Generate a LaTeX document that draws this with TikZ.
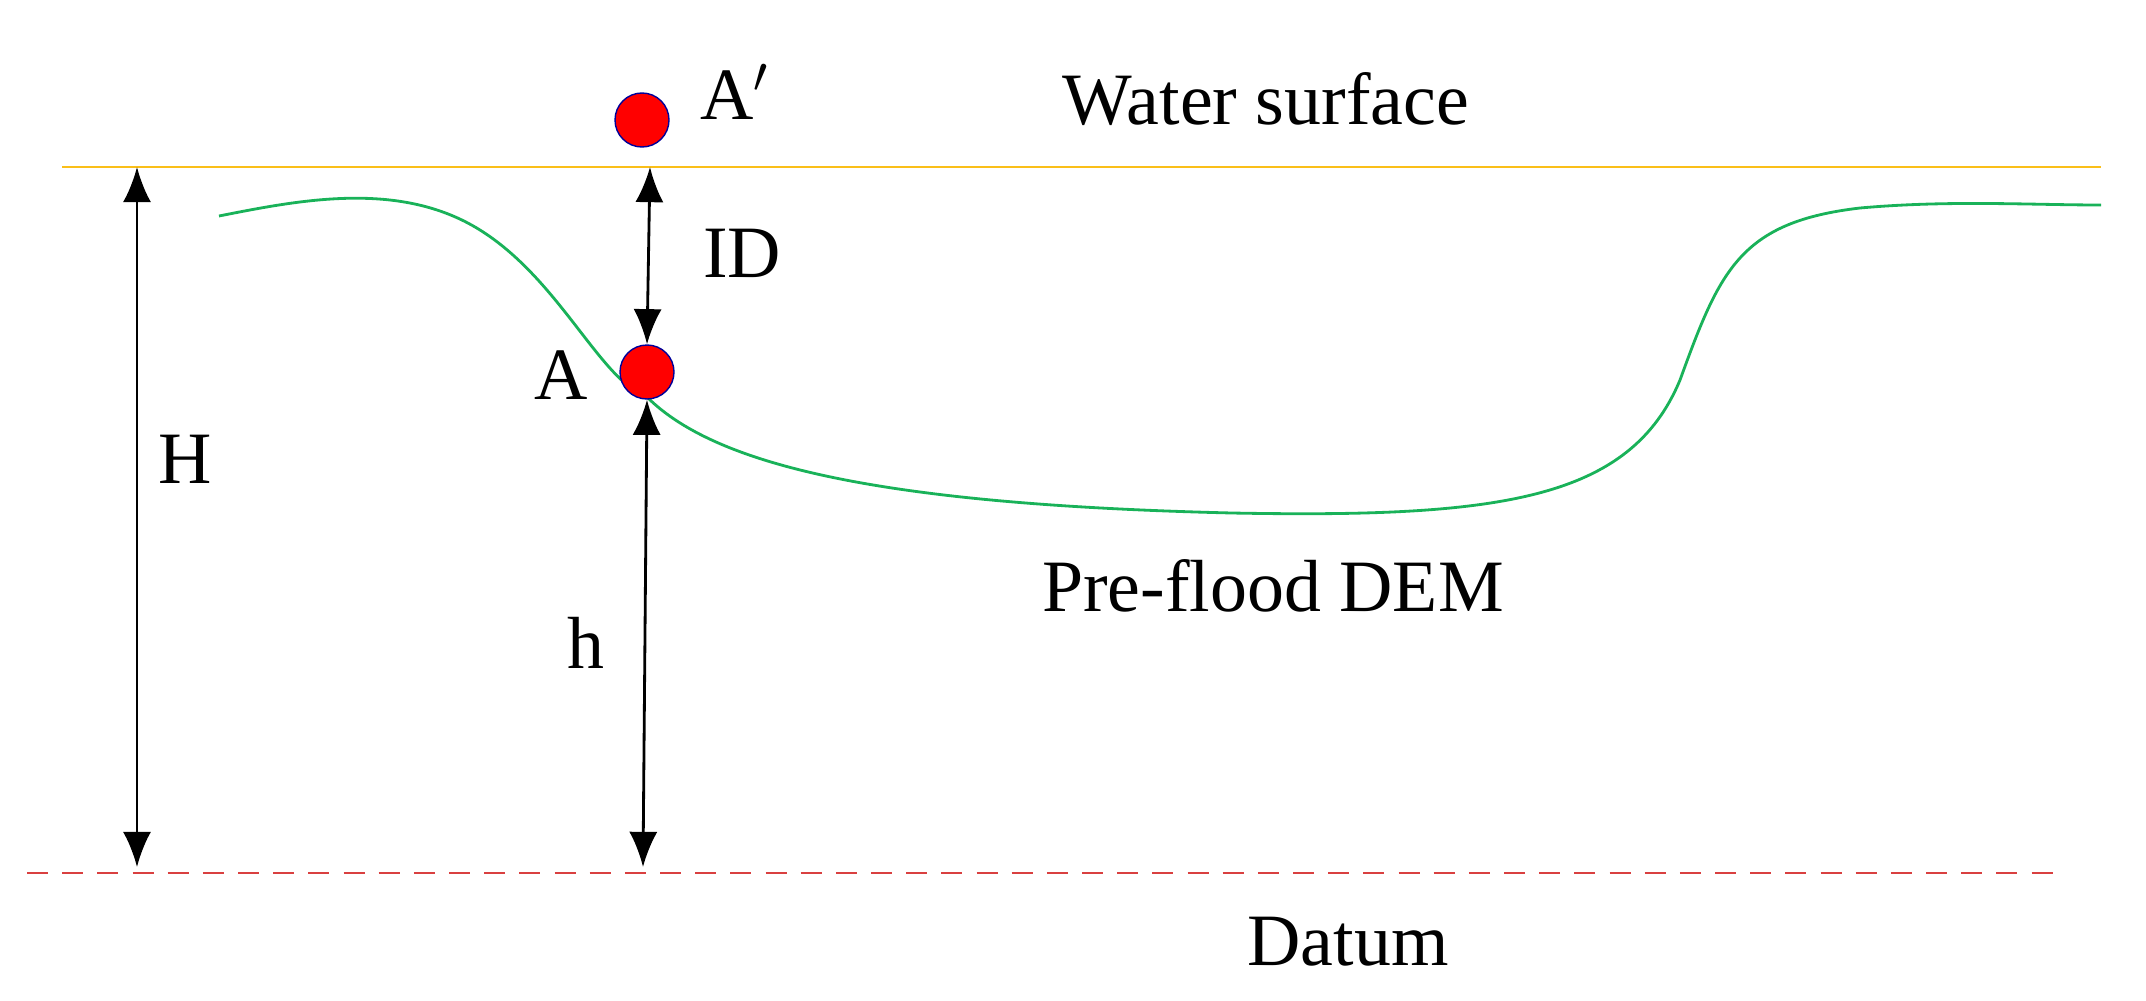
\documentclass[tikz,border=0pt]{standalone}
\usepackage{fontspec}
\setmainfont{Liberation Serif}
\newlength{\du}
\setlength{\du}{0.01cm}
\definecolor{watercolor}{rgb}{0.98, 0.75, 0.10}
\definecolor{demcolor}{rgb}{0.10, 0.70, 0.35}
\definecolor{datumcolor}{rgb}{0.85, 0.25, 0.25}
\tikzset{
  lbl/.style={font=\fontsize{21}{25}\selectfont, inner sep=0pt},
  dim/.style={thick, {Latex[length=10pt,width=8pt]}-{Latex[length=10pt,width=8pt]}},
  pt/.style={circle, fill=red, draw=blue!60!black, minimum size=54\du, inner sep=0pt}
}
\usetikzlibrary{arrows.meta}
\begin{document}
\begin{tikzpicture}[yscale=-1]
\useasboundingbox (0,0) rectangle (2146\du,1000\du);
% water surface and datum
\coordinate (wsl) at (62\du,167\du);
\coordinate (wsr) at (2101\du,167\du);
\draw[watercolor, thick] (wsl) -- (wsr);
\coordinate (dal) at (27\du,873\du);
\coordinate (dar) at (2060\du,873\du);
\draw[datumcolor, thick, dash pattern=on 6pt off 4pt] (dal) -- (dar);
% pre-flood DEM
\draw[demcolor, thick] (219\du,216\du) .. controls (300\du,200\du) and (400\du,180\du) .. (480\du,230\du)
  .. controls (560\du,280\du) and (600\du,380\du) .. (647\du,397\du)
  .. controls (720\du,470\du) and (900\du,505\du) .. (1232\du,513\du)
  .. controls (1500\du,518\du) and (1630\du,500\du) .. (1680\du,380\du)
  .. controls (1720\du,270\du) and (1740\du,222\du) .. (1860\du,208\du)
  .. controls (1950\du,200\du) and (2030\du,205\du) .. (2101\du,205\du);
% points
\node[pt] (Ap) at (642\du,120\du) {};
\node[pt] (A) at (647\du,372\du) {};
% dimensions
\coordinate (Htop) at (137\du,167\du);
\coordinate (Hbot) at (137\du,867\du);
\draw[dim] (Htop) -- (Hbot);
\coordinate (IDtop) at (650\du,167\du);
\draw[dim] (IDtop) -- (A.north);
\coordinate (hbot) at (643\du,867\du);
\draw[dim] (A.south) -- (hbot);
% labels
\node[lbl] (lAp) at (735\du,92\du) {A$'$};
\node[lbl] (lws) at (1266\du,99\du) {Water surface};
\node[lbl] (lID) at (742\du,253\du) {ID};
\node[lbl] (lA) at (561\du,375\du) {A};
\node[lbl] (lH) at (185\du,459\du) {H};
\node[lbl] (lh) at (586\du,643\du) {h};
\node[lbl] (ldem) at (1273\du,586\du) {Pre-flood DEM};
\node[lbl] (ldat) at (1348\du,942\du) {Datum};
\end{tikzpicture}
\end{document}
